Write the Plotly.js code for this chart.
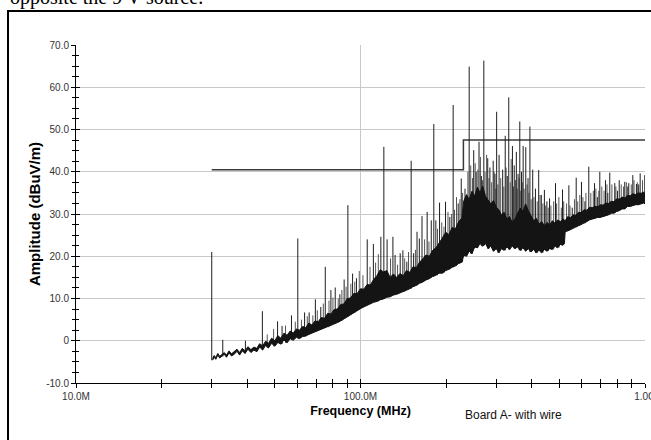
<!DOCTYPE html>
<html>
<head>
<meta charset="utf-8">
<script src="https://cdn.plot.ly/plotly-3.0.1.min.js"></script>
<style>
html,body{margin:0;padding:0;background:#fff;}
#chart{width:651px;height:440px;}
</style>
</head>
<body>
<div id="chart"></div>
<script>
// Noise band (MHz, dBuV/m): lower and upper envelope of the measured trace
const bandF = [30.2,30.6,31.0,31.5,32.0,32.6,33.2,33.8,34.5,35.2,36.0,36.8,37.6,38.4,39.3,40.2,41.2,42.2,43.2,44.2,
  45.3,46.4,47.5,48.7,50.0,51.2,52.5,53.8,55.2,56.6,58.0,59.5,61.0,62.6,64.2,65.8,67.5,69.2,71.0,72.8,
  74.7,76.7,78.7,80.8,83.0,85.2,87.5,89.8,92.2,94.7,97.2,100,102.7,105.5,108.3,111.2,114.2,117.3,120.5,123.8,
  127.1,130.5,134.0,137.6,141.3,145.1,149.0,153.0,157.1,161.3,165.6,170.0,174.6,179.3,184.1,189.0,194.0,199.2,204.5,210.0,
  215.6,221.4,227.3,230.5,236.0,241.0,246.5,252.0,257.5,263.0,269.0,275.0,281.0,287.0,293.5,300.0,306.5,313.0,320.0,327.0,
  334.0,341.5,349.0,356.5,364.5,372.5,380.5,389.0,397.5,406.0,415.0,424.0,433.5,443.0,452.5,462.5,472.5,483.0,493.5,504.0,
  515.0,521.0,524.0,535.0,547.0,559.0,571.0,584.0,597.0,610.0,625.0,638.0,652.0,667.0,682.0,697.0,712.0,728.0,744.0,761.0,
  778.0,795.0,813.0,831.0,849.0,868.0,887.0,907.0,927.0,948.0,969.0,990.0,1000];
const bandLo = [-4.6,-3.9,-4.4,-3.4,-4.1,-3.7,-3.2,-3.9,-2.9,-3.6,-3.2,-2.5,-3.4,-2.4,-3.0,-2.0,-2.8,-2.2,-2.6,-1.5,
  -2.2,-1.1,-1.7,-0.6,-1.3,-0.4,-0.8,0.2,-0.5,0.5,0.1,0.8,0.5,1.0,1.1,1.5,1.8,2.1,2.3,2.6,
  3.0,3.2,3.6,4.0,4.3,4.7,5.2,5.6,6.2,6.6,7.1,7.6,8.0,8.4,8.7,9.1,9.3,9.7,9.9,10.3,
  10.4,10.8,11.0,11.3,11.6,12.0,12.3,12.8,13.1,13.6,13.9,14.4,14.7,15.2,15.5,16.0,16.0,16.6,16.9,17.4,
  17.7,18.3,18.6,20.2,20.0,21.2,20.6,22.2,22.0,23.0,22.4,23.0,21.8,22.4,21.2,21.8,20.8,21.8,21.4,22.2,
  21.6,22.4,21.8,22.2,21.4,22.0,21.2,21.8,21.0,21.6,20.8,21.4,20.8,21.6,21.2,21.8,21.6,22.4,22.0,22.8,
  22.6,23.0,25.8,26.0,26.4,26.6,26.9,27.2,27.4,27.8,28.2,28.6,28.8,29.0,29.2,29.2,29.4,29.6,29.8,30.2,
  30.2,30.6,30.8,31.2,31.2,31.8,31.8,32.0,32.2,32.2,32.4,32.6,32.4];
const bandHi = [-4.2,-3.5,-4.0,-3.0,-3.7,-3.2,-2.8,-3.4,-2.4,-3.1,-2.6,-2.0,-2.8,-1.8,-2.4,-1.4,-2.1,-1.5,-1.8,-0.7,
  -1.2,-0.1,-0.6,0.6,0.0,1.2,0.6,1.8,1.3,2.3,1.8,2.8,2.5,3.4,3.1,4.2,3.7,4.7,4.5,5.5,
  5.3,6.5,6.3,7.4,7.5,8.6,8.7,10.0,10.1,11.2,11.1,12.3,12.2,13.3,13.2,14.5,15.4,16.8,16.3,16.6,
  15.0,15.8,15.0,15.9,15.4,16.6,16.2,17.5,17.3,18.6,19.4,20.3,20.0,21.4,22.0,23.1,24.3,25.7,25.1,26.8,
  26.5,28.2,29.0,33.0,34.6,33.4,35.4,34.2,36.4,35.0,36.6,34.2,33.4,32.4,33.2,31.6,31.0,29.8,30.4,28.8,
  29.4,28.0,28.8,30.2,31.4,30.6,32.4,30.8,29.4,28.4,29.0,27.6,28.2,27.2,28.0,27.4,28.4,27.8,28.6,28.2,
  28.8,28.6,28.4,29.4,29.1,29.8,29.7,30.4,30.3,31.0,30.9,31.6,31.5,31.8,31.7,32.2,32.1,32.6,32.5,33.0,
  32.9,33.6,33.5,34.0,33.8,34.4,34.3,34.8,34.6,35.0,34.9,35.2,34.8];

// Strong narrow-band emissions (MHz, peak dBuV/m)
const spikeF = [30.0,32.8,39.4,45.2,51.1,53.0,57.2,60.2,63.6,66.0,69.4,72.5,75.2,78.7,81.5,84.6,87.6,90.3,93.8,96.8,
  105.6,111.0,117.9,120.8,124.0,130.0,132.3,137.9,140.9,145.5,150.7,153.7,158.0,161.0,164.5,171.5,177.3,181.0,184.0,189.6,
  199.0,206.0,211.7,220.5,226.0,233.0,241.0,250.0,255.0,261.0,266.0,271.3,280.0,285.0,292.7,297.0,301.0,307.0,316.0,322.6,
  328.0,332.0,342.0,347.0,353.0,358.0,363.0,368.0,373.0,381.0,388.0,394.0,403.0,412.0,423.0,432.0,443.0,452.0,461.8,484.6,
  513.0,540.0,555.0,573.0,598.0,615.0,634.5,664.7,680.0,693.7,726.3,740.0,752.0,783.0,800.0,811.7,849.0,870.0,877.0,906.0,
  933.0,950.0,961.6,998.0];
const spikeTop = [21.0,0.2,0.0,7.0,4.6,3.5,6.0,24.2,6.7,6.7,9.8,8.0,17.5,12.0,12.6,11.0,14.5,32.1,15.9,14.8,
  24.0,22.9,24.6,45.9,24.0,24.6,20.3,20.7,21.4,18.7,42.6,20.7,25.8,24.2,29.5,30.5,28.5,51.3,28.5,32.7,
  32.9,29.3,55.8,32.5,38.4,36.0,64.9,45.1,40.0,47.1,39.0,66.3,43.2,41.0,42.6,39.5,54.2,44.0,40.5,48.5,
  39.0,57.6,46.1,41.5,44.7,39.5,51.9,40.0,46.1,45.8,38.5,50.7,40.5,36.0,40.4,34.5,35.7,33.0,33.7,37.3,
  35.8,36.8,31.5,38.6,37.6,33.0,41.2,37.3,34.0,40.0,38.0,35.0,39.8,37.3,35.5,38.0,37.6,36.5,37.3,39.2,
  37.1,37.0,39.6,39.2];

// Weaker emissions rising just above the noise (MHz, peak dBuV/m)
const grassF = [47.0,49.5,54.5,59.0,62.0,65.0,68.0,70.5,74.0,77.5,80.0,83.5,86.0,89.0,92.5,95.5,99.0,102.0,108.0,113.0,
  115.5,127.5,135.0,143.0,147.5,156.0,168.0,174.0,186.5,193.0,196.5,203.0,209.0,214.0,217.5,223.5,228.5,238.5,244.0,247.5,
  253.0,258.5,264.0,268.5,274.0,277.5,283.0,289.0,295.0,299.0,304.0,311.0,319.0,325.0,336.0,338.5,345.0,350.5,355.5,361.0,
  366.0,370.5,376.0,385.0,391.0,398.0,407.0,418.0,427.5,437.5,447.5,457.0,467.0,477.5,489.0,498.0,508.0,518.0,530.0,545.0,
  565.0,580.0,590.0,605.0,620.0,645.0,658.0,672.0,688.0,705.0,718.0,735.0,765.0,790.0,825.0,840.0,860.0,895.0,915.0,940.0,
  980.0];
const grassTop = [1.5,2.8,3.6,4.5,5.0,5.8,6.0,7.2,8.8,9.5,10.2,10.0,12.0,12.8,13.5,14.0,16.5,15.5,17.5,18.5,
  20.5,19.5,18.0,19.5,21.0,21.5,24.0,23.5,26.5,28.0,27.0,30.5,30.0,31.0,34.0,33.5,35.0,40.0,41.5,38.5,
  42.0,40.5,43.5,38.0,40.0,44.0,38.5,37.5,40.0,36.0,37.0,38.5,36.5,41.0,37.5,43.0,36.5,38.0,36.0,38.5,
  35.5,37.5,36.0,37.0,35.0,33.5,34.0,33.0,34.5,32.5,32.0,31.5,32.0,33.0,32.5,34.0,31.5,33.0,32.5,32.0,
  33.5,33.0,34.5,34.0,35.0,35.0,35.5,36.0,35.5,36.5,35.5,37.0,37.0,36.5,37.0,36.5,37.5,37.0,38.0,37.5,
  38.0];

// Limit line
const limitF = [30, 230, 230, 1000];
const limitV = [40.5, 40.5, 47.5, 47.5];

// Tick labels
const yTickVals = [-10, 0, 10, 20, 30, 40, 50, 60, 70];
const yTickText = ['-10.0', '0', '10.0', '20.0', '30.0', '40.0', '50.0', '60.0', '70.0'];
const xTickVals = [10, 100, 1000];
const xTickText = ['10.0M', '100.0M', '1.0G'];
const xMinorVals = [20,30,40,50,60,70,80,90,200,300,400,500,600,700,800,900];

// vertical marks drawn from the band floor at the nearest band sample
function stems(freqs, tops) {
  const sx = [], sy = [];
  freqs.forEach((f, i) => {
    let best = 0, bd = Infinity;
    bandF.forEach((b, j) => { const d = Math.abs(Math.log(b) - Math.log(f)); if (d < bd) { bd = d; best = j; } });
    sx.push(f, f, null);
    sy.push(bandLo[best], tops[i], null);
  });
  return {sx, sy};
}
const strong = stems(spikeF, spikeTop);
const weak = stems(grassF, grassTop);

const traces = [
  {x: limitF, y: limitV, mode: 'lines', line: {color: '#3a3a3a', width: 1.5}, hoverinfo: 'skip'},
  {x: weak.sx, y: weak.sy, mode: 'lines', line: {color: '#555', width: 1}, hoverinfo: 'skip'},
  {x: strong.sx, y: strong.sy, mode: 'lines', line: {color: '#1e1e1e', width: 1}, hoverinfo: 'skip'},
  {x: bandF, y: bandLo, mode: 'lines', line: {color: '#111', width: 1}, hoverinfo: 'skip'},
  {x: bandF, y: bandHi, mode: 'lines', fill: 'tonexty', fillcolor: '#141414', line: {color: '#111', width: 1}, hoverinfo: 'skip'},
  {x: [], y: [], xaxis: 'x2', yaxis: 'y2', mode: 'lines', hoverinfo: 'skip'}
];

const tickFont = {family: 'Arial, Liberation Sans, sans-serif', size: 10, color: '#333'};

const layout = {
  width: 651, height: 440,
  margin: {l: 76, r: 6, t: 45, b: 57},
  paper_bgcolor: '#fff', plot_bgcolor: '#fff',
  showlegend: false,
  xaxis: {
    type: 'log', range: [1, 3],
    tickmode: 'array', tickvals: xTickVals, ticktext: xTickText,
    ticklabeloverflow: 'allow',
    ticks: 'outside', ticklen: 4, tickcolor: '#000', tickwidth: 1,
    minor: {tickmode: 'array', tickvals: xMinorVals, ticks: 'outside', ticklen: 4, tickcolor: '#000', showgrid: false},
    showline: true, linecolor: '#000', linewidth: 1,
    showgrid: true, gridcolor: '#c8c8c8', gridwidth: 1, zeroline: false,
    tickfont: tickFont,
    title: {text: '<b>Frequency (MHz)</b>', font: {family: 'Arial, Liberation Sans, sans-serif', size: 12.5, color: '#000'}, standoff: 5}
  },
  yaxis: {
    range: [-10, 70],
    tickmode: 'array', tickvals: yTickVals, ticktext: yTickText,
    ticks: 'outside', ticklen: 4, tickcolor: '#000', tickwidth: 1,
    minor: {dtick: 2.5, tick0: 0, ticks: 'outside', ticklen: 3, tickcolor: '#000', showgrid: false},
    showline: true, linecolor: '#000', linewidth: 1,
    showgrid: true, gridcolor: '#c8c8c8', gridwidth: 1, zeroline: false,
    tickfont: tickFont,
    title: {text: '<b>Amplitude (dBuV/m)</b>', font: {family: 'Arial, Liberation Sans, sans-serif', size: 15, color: '#000'}, standoff: 1}
  },
  xaxis2: {
    type: 'log', range: [1, 3], overlaying: 'x', anchor: 'y', side: 'bottom',
    tickmode: 'array', tickvals: xTickVals, ticks: 'inside', ticklen: 4, tickcolor: '#000',
    minor: {tickmode: 'array', tickvals: xMinorVals, ticks: 'inside', ticklen: 4, tickcolor: '#000', showgrid: false},
    showticklabels: false, showgrid: false, showline: false, zeroline: false
  },
  yaxis2: {
    range: [-10, 70], overlaying: 'y', anchor: 'x', side: 'left',
    tickmode: 'array', tickvals: yTickVals, ticks: 'inside', ticklen: 4, tickcolor: '#000',
    minor: {dtick: 2.5, tick0: 0, ticks: 'inside', ticklen: 3, tickcolor: '#000', showgrid: false},
    showticklabels: false, showgrid: false, showline: false, zeroline: false
  },
  annotations: [
    {text: 'Board A- with wire', xref: 'paper', yref: 'paper', x: 0.769, y: -0.094,
     xanchor: 'center', yanchor: 'middle', showarrow: false,
     font: {family: 'Arial, Liberation Sans, sans-serif', size: 12, color: '#111'}},
    {text: 'opposite the 9 V source.', xref: 'paper', yref: 'paper', x: -0.1195, y: 1.14,
     xanchor: 'left', yanchor: 'middle', showarrow: false,
     font: {family: 'Liberation Serif, Times New Roman, serif', size: 20, color: '#000'}}
  ],
  shapes: [
    {type: 'rect', xref: 'paper', yref: 'paper', x0: -0.1195, x1: 1.2, y0: -0.4, y1: 1.1006,
     line: {color: '#000', width: 2}, fillcolor: 'rgba(0,0,0,0)', layer: 'above'}
  ]
};

Plotly.newPlot('chart', traces, layout, {staticPlot: true, displayModeBar: false});
</script>
</body>
</html>
